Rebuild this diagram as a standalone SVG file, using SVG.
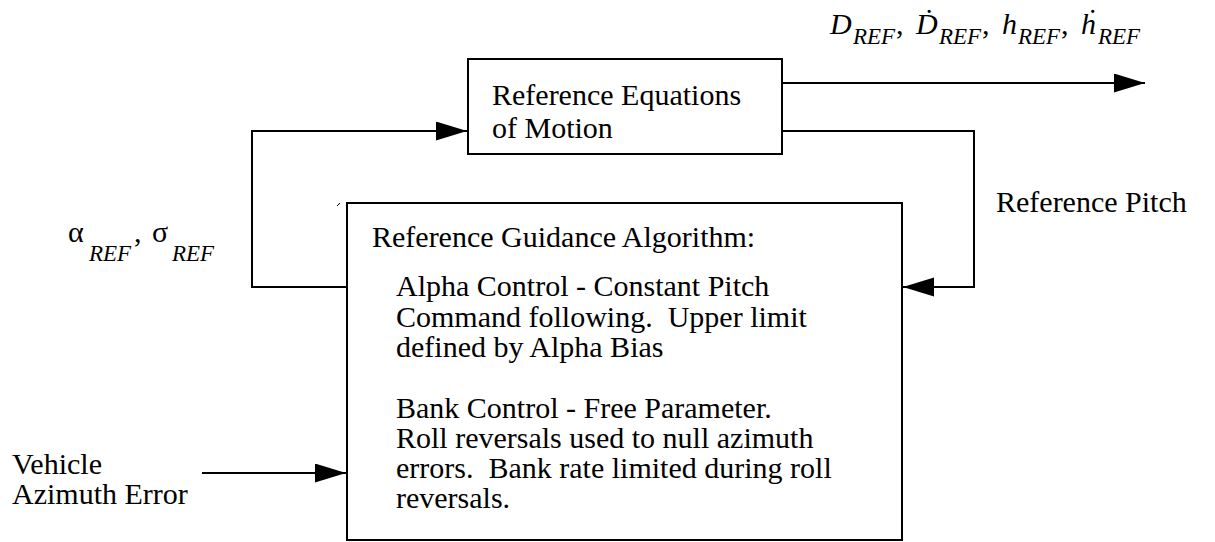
<svg xmlns="http://www.w3.org/2000/svg" width="1215" height="542" viewBox="0 0 1215 542">
  <style>
    .box { fill: #fff; stroke: #000; stroke-width: 2; }
    .wire { fill: none; stroke: #000; stroke-width: 2; }
    text { font-family: "Liberation Serif", "DejaVu Serif", serif; fill: #000; white-space: pre; }
    .t { font-size: 30px; }
    .it { font-style: italic; }
    .sub { font-size: 23px; font-style: italic; }
  </style>
  <defs>
    <marker id="arrow" markerUnits="userSpaceOnUse" markerWidth="32" markerHeight="20" refX="31" refY="9.5" orient="auto">
      <path d="M0,0 L31,9.5 L0,19 Z" fill="#000"/>
    </marker>
  </defs>
  <rect width="1215" height="542" fill="#fff"/>

  <!-- signal lines -->
  <g id="connectors">
    <!-- outputs of the equations of motion -->
    <path class="wire" d="M782,83 H1145" marker-end="url(#arrow)"/>
    <!-- reference pitch fed back to the guidance algorithm -->
    <path class="wire" d="M782,131 H974 V287 H903" marker-end="url(#arrow)"/>
    <!-- alpha / sigma commands fed to the equations of motion -->
    <path class="wire" d="M347,287 H252 V131 H467" marker-end="url(#arrow)"/>
    <!-- vehicle azimuth error input -->
    <path class="wire" d="M202,473 H346" marker-end="url(#arrow)"/>
  </g>

  <g id="reference-eom">
    <rect class="box" x="468" y="59" width="314" height="95"/>
    <text class="t" x="492" y="105">Reference Equations</text>
    <text class="t" x="492" y="138">of Motion</text>
  </g>

  <g id="guidance-algorithm">
    <rect class="box" x="347" y="203" width="555" height="337"/>
    <path d="M337,206 L340,203" stroke="#000" stroke-width="1"/>
    <text class="t" x="372" y="247">Reference Guidance Algorithm:</text>
    <text class="t" x="396" y="296">Alpha Control - Constant Pitch</text>
    <text class="t" x="396" y="326.5">Command following.  Upper limit</text>
    <text class="t" x="396" y="357">defined by Alpha Bias</text>
    <text class="t" x="396" y="418">Bank Control - Free Parameter.</text>
    <text class="t" x="396" y="448">Roll reversals used to null azimuth</text>
    <text class="t" x="396" y="478">errors.  Bank rate limited during roll</text>
    <text class="t" x="396" y="508">reversals.</text>
  </g>

  <g id="label-outputs">
    <text class="t it" x="830" y="34">D</text>
    <text class="sub" x="853" y="44">REF</text>
    <text class="t" x="896" y="34">,</text>
    <text class="t it" x="916" y="34">Ḋ</text>
    <text class="sub" x="939" y="44">REF</text>
    <text class="t" x="982" y="34">,</text>
    <text class="t it" x="1002" y="34">h</text>
    <text class="sub" x="1018" y="44">REF</text>
    <text class="t" x="1061" y="34">,</text>
    <text class="t it" x="1081" y="34">ḣ</text>
    <text class="sub" x="1098" y="44">REF</text>
  </g>

  <g id="label-commands">
    <text class="t" x="68" y="242">α</text>
    <text class="sub" x="89" y="261">REF</text>
    <text class="t" x="134" y="242">,</text>
    <text class="t" x="152" y="242">σ</text>
    <text class="sub" x="172" y="261">REF</text>
  </g>

  <g id="label-pitch">
    <text class="t" x="996" y="212">Reference Pitch</text>
  </g>

  <g id="label-azimuth">
    <text class="t" x="12" y="474">Vehicle</text>
    <text class="t" x="12" y="504">Azimuth Error</text>
  </g>
</svg>
